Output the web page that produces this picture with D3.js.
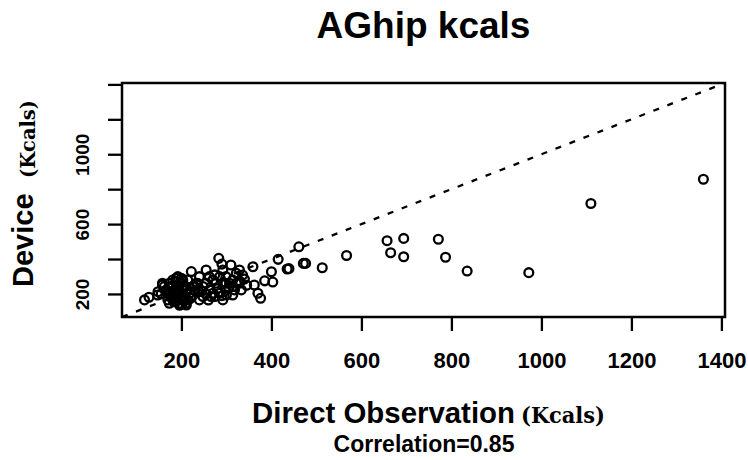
<!DOCTYPE html>
<html>
<head>
<meta charset="utf-8">
<script src="https://cdn.jsdelivr.net/npm/d3@7"></script>
<style>
  html, body { margin: 0; padding: 0; background: #fff; }
  svg { display: block; }
</style>
</head>
<body>
<svg id="chart" width="748" height="460"></svg>
<script>
// ---- data ----
const title = "AGhip kcals";
const xLabelMain = "Direct Observation";
const yLabelMain = "Device";
const unitLabel = "(Kcals)";
const subLabel = "Correlation=0.85";

const axisDomain = [68, 1408];
const xTicks = [200, 400, 600, 800, 1000, 1200, 1400];
const xTickLabels = ["200", "400", "600", "800", "1000", "1200", "1400"];
const yTicks = [200, 400, 600, 800, 1000, 1200, 1400];
const yTickLabels = ["200", "", "600", "", "1000", "", ""];

const directObs = [
  1360, 1110, 972, 835, 787, 771, 694, 694, 665, 657,
  567, 513, 476, 471, 461, 439, 435, 415, 400, 403,
  385, 362, 370, 376, 359, 310, 290, 283, 255, 222,
  274, 322, 329, 299, 270, 314, 248, 292, 333, 118,
  128, 148, 162, 173, 181, 200, 170, 196, 196, 239,
  240, 274, 300, 318, 188, 158, 147, 211, 236, 199,
  203, 210, 188, 177, 184, 207, 214, 225, 218, 233,
  248, 255, 262, 270, 277, 285, 292, 299, 307, 314,
  314, 329, 336, 166, 155, 173, 188, 210, 158, 192,
  203, 240, 262, 266, 292, 299, 285, 329, 322, 180,
  190, 195, 185, 200, 215, 225, 230, 180, 205, 255,
  245, 280, 305, 340, 345, 260, 290, 180, 192, 176,
  183, 192, 198, 205, 187, 178, 196, 212, 220, 170,
  228, 201
];
const device = [
  857, 718, 322, 331, 410, 513, 518, 413, 436, 505,
  420, 350, 375, 375, 470, 345, 343, 398, 327, 268,
  275, 251, 204, 175, 356, 366, 371, 404, 337, 328,
  309, 318, 275, 261, 204, 194, 185, 166, 223, 166,
  181, 213, 242, 261, 280, 290, 166, 147, 135, 213,
  166, 185, 194, 223, 290, 251, 194, 137, 261, 261,
  223, 242, 232, 204, 185, 185, 280, 242, 204, 261,
  242, 261, 223, 280, 261, 299, 261, 299, 261, 280,
  242, 337, 308, 223, 200, 147, 156, 147, 261, 299,
  280, 299, 299, 185, 337, 223, 204, 261, 261, 170,
  200, 175, 215, 205, 165, 190, 220, 245, 160, 200,
  215, 230, 235, 285, 250, 165, 190, 190, 250, 238,
  155, 228, 185, 250, 268, 180, 215, 225, 175, 200,
  248, 140
];

// ---- layout ----
const svg = d3.select("#chart");
const box = { left: 122, right: 725, top: 83, bottom: 317 };
const x = d3.scaleLinear().domain(axisDomain).range([box.left, box.right]);
const y = d3.scaleLinear().domain(axisDomain).range([box.bottom, box.top]);

const sans = "'Liberation Sans', Arial, Helvetica, sans-serif";
const serif = "'DejaVu Serif', 'Liberation Serif', serif";

// title
svg.append("text")
  .attr("x", (box.left + box.right) / 2).attr("y", 38)
  .attr("text-anchor", "middle")
  .attr("font-family", sans).attr("font-weight", "bold").attr("font-size", 37)
  .text(title);

// clip for plot region
svg.append("defs").append("clipPath").attr("id", "plotclip")
  .append("rect")
  .attr("x", box.left).attr("y", box.top)
  .attr("width", box.right - box.left).attr("height", box.bottom - box.top);

// identity line (dashed)
svg.append("line")
  .attr("clip-path", "url(#plotclip)")
  .attr("x1", x(axisDomain[0])).attr("y1", y(axisDomain[0]))
  .attr("x2", x(axisDomain[1])).attr("y2", y(axisDomain[1]))
  .attr("stroke", "#000").attr("stroke-width", 2.3)
  .attr("stroke-dasharray", "6,9");

// points
const pts = directObs.map((d, i) => ({ x: d, y: device[i] }));
svg.append("g").selectAll("circle").data(pts).join("circle")
  .attr("cx", d => x(d.x)).attr("cy", d => y(d.y))
  .attr("r", 4.4)
  .attr("fill", "none").attr("stroke", "#000").attr("stroke-width", 2.3);

// box
svg.append("rect")
  .attr("x", box.left).attr("y", box.top)
  .attr("width", box.right - box.left).attr("height", box.bottom - box.top)
  .attr("fill", "none").attr("stroke", "#000").attr("stroke-width", 2.5);

// x axis
const xAxis = d3.axisBottom(x).tickValues(xTicks).tickSize(14).tickPadding(0)
  .tickFormat((d, i) => xTickLabels[i]);
const gx = svg.append("g").attr("transform", `translate(0,${box.bottom})`).call(xAxis);
gx.select(".domain").remove();
gx.selectAll(".tick line").attr("stroke", "#000").attr("stroke-width", 2.3);
gx.selectAll(".tick text")
  .attr("y", 51).attr("dy", null)
  .attr("font-family", sans).attr("font-weight", "bold").attr("font-size", 22)
  .attr("fill", "#000");

// y axis
const yAxis = d3.axisLeft(y).tickValues(yTicks).tickSize(14).tickPadding(0)
  .tickFormat((d, i) => yTickLabels[i]);
const gy = svg.append("g").attr("transform", `translate(${box.left},0)`).call(yAxis);
gy.select(".domain").remove();
gy.selectAll(".tick line").attr("stroke", "#000").attr("stroke-width", 2.3);
gy.selectAll(".tick text")
  .attr("x", null).attr("dy", null)
  .attr("text-anchor", "middle")
  .attr("transform", `translate(${89 - box.left},0) rotate(-90)`)
  .attr("font-family", sans).attr("font-weight", "bold").attr("font-size", 19)
  .attr("fill", "#000");

// x axis title
const xt = svg.append("text").attr("y", 423);
xt.append("tspan").attr("x", 252)
  .attr("font-family", sans).attr("font-weight", "bold").attr("font-size", 29)
  .attr("textLength", 263).attr("lengthAdjust", "spacingAndGlyphs")
  .text(xLabelMain);
xt.append("tspan").attr("x", 521)
  .attr("font-family", serif).attr("font-weight", "bold").attr("font-size", 22)
  .attr("textLength", 84).attr("lengthAdjust", "spacingAndGlyphs")
  .text(unitLabel);

// subtitle
svg.append("text")
  .attr("x", 424).attr("y", 452)
  .attr("text-anchor", "middle")
  .attr("font-family", sans).attr("font-weight", "bold").attr("font-size", 23)
  .text(subLabel);

// y axis title
const yt = svg.append("text").attr("transform", "translate(33,287) rotate(-90)");
yt.append("tspan").attr("x", 0)
  .attr("font-family", sans).attr("font-weight", "bold").attr("font-size", 29)
  .text(yLabelMain);
yt.append("tspan").attr("x", 109).attr("dy", 2)
  .attr("font-family", serif).attr("font-weight", "bold").attr("font-size", 21)
  .attr("textLength", 78).attr("lengthAdjust", "spacingAndGlyphs")
  .text(unitLabel);
</script>
</body>
</html>
